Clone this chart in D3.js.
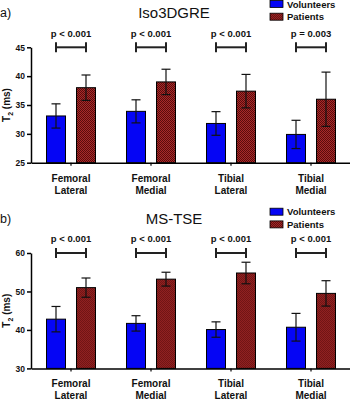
<!DOCTYPE html>
<html>
<head>
<meta charset="utf-8">
<script src="https://cdn.jsdelivr.net/npm/d3@7"></script>
<style>
  body { margin: 0; background: #fff; }
  text { font-family: "Liberation Sans", Arial, sans-serif; }
</style>
</head>
<body>
<script>
var categories = ["Femoral Lateral", "Femoral Medial", "Tibial Lateral", "Tibial Medial"];
var groups = ["Volunteers", "Patients"];

// a) Iso3DGRE
var isoVolMean = [33.1, 33.9, 31.8, 29.9];
var isoVolSD = [2.1, 2.0, 2.05, 2.45];
var isoPatMean = [38.0, 39.0, 37.4, 36.0];
var isoPatSD = [2.2, 2.2, 2.9, 4.7];
var isoP = ["p < 0.001", "p < 0.001", "p < 0.001", "p = 0.003"];
var isoTicks = [25, 30, 35, 40, 45];

// b) MS-TSE
var tseVolMean = [42.8, 41.7, 40.1, 40.7];
var tseVolSD = [3.3, 2.0, 2.0, 3.6];
var tsePatMean = [51.0, 53.2, 54.8, 49.5];
var tsePatSD = [2.5, 1.8, 2.8, 3.3];
var tseP = ["p < 0.001", "p < 0.001", "p < 0.001", "p < 0.001"];
var tseTicks = [30, 40, 50, 60];

var width = 350, height = 400;

var svg = d3.select("body").append("svg")
    .attr("width", width)
    .attr("height", height);

// checkered dark red fill for patients
var defs = svg.append("defs");
var pat = defs.append("pattern")
    .attr("id", "check")
    .attr("width", 2).attr("height", 2)
    .attr("patternUnits", "userSpaceOnUse");
pat.append("rect").attr("width", 2).attr("height", 2).attr("fill", "#a82a2a");
pat.append("rect").attr("width", 1).attr("height", 1).attr("fill", "#5a0c0c");
pat.append("rect").attr("x", 1).attr("y", 1).attr("width", 1).attr("height", 1).attr("fill", "#5a0c0c");

var fills = {Volunteers: "#0505f5", Patients: "url(#check)"};

var xScale = d3.scaleBand().domain(categories).range([31, 351]);
var xSub = d3.scaleBand().domain(groups).range([15.5, 64.5]).paddingInner(11 / 30);

function panel(opt) {
  var g = svg.append("g").attr("transform", "translate(0," + opt.top + ")");
  var yScale = d3.scaleLinear().domain(opt.domain).range([162.7, 47.3]);

  var rows = [];
  categories.forEach(function(c, i) {
    rows.push({cat: c, grp: "Volunteers", mean: opt.vol[i], sd: opt.volSD[i]});
    rows.push({cat: c, grp: "Patients", mean: opt.pat[i], sd: opt.patSD[i]});
  });

  // bars
  g.selectAll("rect.bar")
    .data(rows)
    .enter()
    .append("rect")
    .attr("class", "bar")
    .attr("x", function(d) { return xScale(d.cat) + xSub(d.grp); })
    .attr("y", function(d) { return yScale(d.mean); })
    .attr("width", xSub.bandwidth())
    .attr("height", function(d) { return yScale(opt.domain[0]) - yScale(d.mean); })
    .attr("fill", function(d) { return fills[d.grp]; })
    .attr("stroke", "#000")
    .attr("stroke-width", 1);

  // error bars
  var eb = g.selectAll("g.err")
    .data(rows)
    .enter()
    .append("g")
    .attr("class", "err")
    .attr("stroke", "#111")
    .attr("stroke-width", 1.2);
  function cx(d) { return xScale(d.cat) + xSub(d.grp) + xSub.bandwidth() / 2; }
  eb.append("line")
    .attr("x1", cx).attr("x2", cx)
    .attr("y1", function(d) { return yScale(d.mean + d.sd); })
    .attr("y2", function(d) { return yScale(d.mean - d.sd); });
  eb.append("line")
    .attr("x1", function(d) { return cx(d) - 4.5; })
    .attr("x2", function(d) { return cx(d) + 4.5; })
    .attr("y1", function(d) { return yScale(d.mean + d.sd); })
    .attr("y2", function(d) { return yScale(d.mean + d.sd); });
  eb.append("line")
    .attr("x1", function(d) { return cx(d) - 4.5; })
    .attr("x2", function(d) { return cx(d) + 4.5; })
    .attr("y1", function(d) { return yScale(d.mean - d.sd); })
    .attr("y2", function(d) { return yScale(d.mean - d.sd); });

  // significance brackets
  var topY = yScale(opt.domain[1]);
  var br = g.selectAll("g.br")
    .data(categories)
    .enter()
    .append("g")
    .attr("class", "br");
  function bx1(c) { return xScale(c) + xSub("Volunteers") + xSub.bandwidth() / 2; }
  function bx2(c) { return xScale(c) + xSub("Patients") + xSub.bandwidth() / 2; }
  br.append("line")
    .attr("x1", bx1).attr("x2", bx2)
    .attr("y1", topY).attr("y2", topY)
    .attr("stroke", "#222").attr("stroke-width", 2);
  br.append("line")
    .attr("x1", bx1).attr("x2", bx1)
    .attr("y1", topY - 5).attr("y2", topY + 5)
    .attr("stroke", "#222").attr("stroke-width", 2);
  br.append("line")
    .attr("x1", bx2).attr("x2", bx2)
    .attr("y1", topY - 5).attr("y2", topY + 5)
    .attr("stroke", "#222").attr("stroke-width", 2);
  br.append("text")
    .attr("x", function(c) { return xScale(c) + xScale.bandwidth() / 2; })
    .attr("y", topY - 10.5)
    .attr("text-anchor", "middle")
    .attr("font-size", "9.5px")
    .attr("font-weight", "bold")
    .attr("fill", "#111")
    .text(function(c, i) { return opt.p[i]; });

  // axes
  var yAxis = d3.axisLeft(yScale).tickValues(opt.ticks).tickSize(4).tickSizeOuter(0).tickPadding(2);
  var yG = g.append("g").attr("transform", "translate(31,0)").call(yAxis);
  yG.select(".domain").attr("stroke-width", 1.5);
  yG.selectAll(".tick line").attr("stroke-width", 1.5);
  yG.selectAll("text").attr("font-size", "8.5px").attr("font-weight", "bold")
    .attr("font-family", "Liberation Sans, Arial, sans-serif").attr("fill", "#111");

  var xAxis = d3.axisBottom(xScale).tickSize(3).tickSizeOuter(0).tickFormat("");
  var xG = g.append("g").attr("transform", "translate(0," + yScale(opt.domain[0]) + ")").call(xAxis);
  xG.select(".domain").attr("stroke-width", 1.5);
  xG.selectAll(".tick line").attr("stroke-width", 1.2);

  // category labels on two lines
  var cl = g.selectAll("text.cat")
    .data(categories)
    .enter()
    .append("text")
    .attr("class", "cat")
    .attr("text-anchor", "middle")
    .attr("font-size", "10px")
    .attr("font-weight", "bold")
    .attr("fill", "#111");
  cl.selectAll("tspan")
    .data(function(c) { return c.split(" ").map(function(w) { return {w: w, c: c}; }); })
    .enter()
    .append("tspan")
    .attr("x", function(d) { return xScale(d.c) + xScale.bandwidth() / 2; })
    .attr("y", function(d, i) { return yScale(opt.domain[0]) + 19 + i * 11.8; })
    .text(function(d) { return d.w; });

  // y label
  var yl = g.append("text")
    .attr("transform", "translate(10," + (yScale(opt.domain[0]) + yScale(opt.domain[1])) / 2 + ") rotate(-90)")
    .attr("text-anchor", "middle")
    .attr("font-size", "10px")
    .attr("font-weight", "bold")
    .attr("fill", "#111");
  yl.append("tspan").text("T");
  yl.append("tspan").attr("font-size", "7px").attr("dy", 2.5).text("2");
  yl.append("tspan").attr("dy", -2.5).text(" (ms)");

  // title and panel letter
  g.append("text")
    .attr("x", 174).attr("y", 18.3)
    .attr("text-anchor", "middle")
    .attr("font-size", "15px")
    .attr("fill", "#111")
    .text(opt.title);
  g.append("text")
    .attr("x", 0).attr("y", 17)
    .attr("font-size", "12.5px")
    .attr("fill", "#111")
    .text(opt.letter);

  // legend
  var lg = g.selectAll("g.lg")
    .data(groups)
    .enter()
    .append("g")
    .attr("class", "lg")
    .attr("transform", function(d, i) { return "translate(270," + (opt.legendTop + i * 12.7) + ")"; });
  lg.append("rect")
    .attr("width", 13).attr("height", 7)
    .attr("fill", function(d) { return fills[d]; })
    .attr("stroke", "#000").attr("stroke-width", 0.8);
  lg.append("text")
    .attr("x", 17).attr("y", 7)
    .attr("font-size", "9.5px")
    .attr("font-weight", "bold")
    .attr("fill", "#111")
    .text(function(d) { return d; });
}

panel({
  top: 0, title: "Iso3DGRE", letter: "a)", domain: [25, 45], ticks: isoTicks,
  vol: isoVolMean, volSD: isoVolSD, pat: isoPatMean, patSD: isoPatSD, p: isoP, legendTop: 0.5
});
panel({
  top: 205.7, title: "MS-TSE", letter: "b)", domain: [30, 60], ticks: tseTicks,
  vol: tseVolMean, volSD: tseVolSD, pat: tsePatMean, patSD: tsePatSD, p: tseP, legendTop: 2.5
});
</script>
</body>
</html>
